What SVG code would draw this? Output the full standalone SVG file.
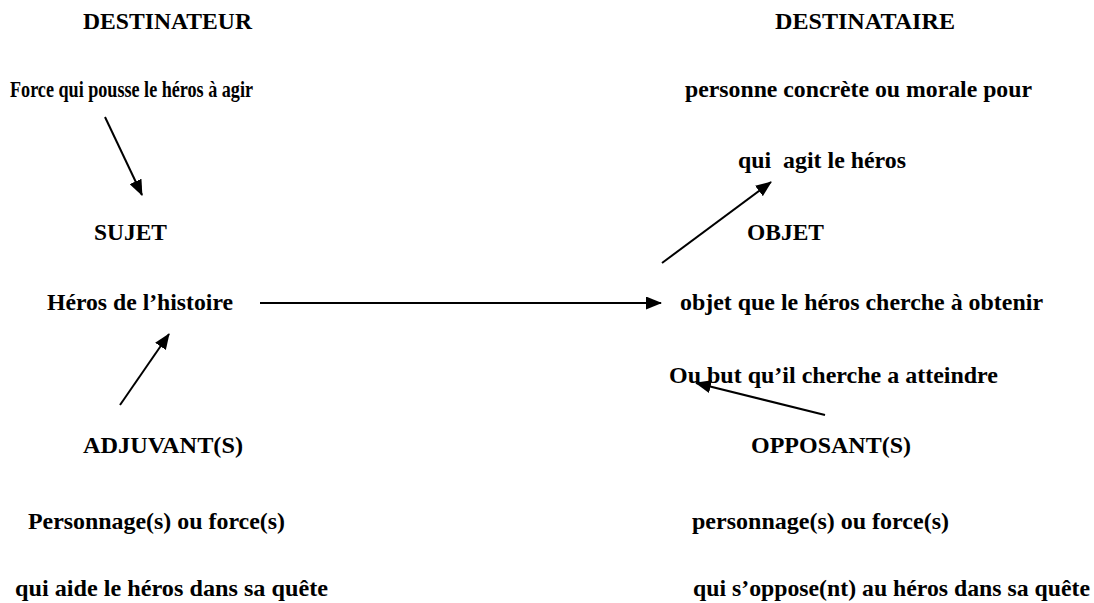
<svg xmlns="http://www.w3.org/2000/svg" width="1094" height="603" viewBox="0 0 1094 603">
<style>
text{font-family:"Liberation Serif","Times New Roman",serif;font-weight:bold;font-size:23px;fill:#000;white-space:pre}
.c{stroke:#000;stroke-width:2;fill:none}
</style>
<defs>
<marker id="ah" markerUnits="userSpaceOnUse" markerWidth="16" markerHeight="13" refX="15" refY="6.5" orient="auto">
<path d="M0,0 L16,6.5 L0,13 z" fill="#000"/>
</marker>
</defs>
<rect width="1094" height="603" fill="#fff"/>
<g id="destinateur">
<text x="83" y="29" textLength="169" lengthAdjust="spacingAndGlyphs">DESTINATEUR</text>
<text x="10" y="97" textLength="243" lengthAdjust="spacingAndGlyphs">Force qui pousse le héros à agir</text>
</g>
<g id="destinataire">
<text x="775" y="29" textLength="180" lengthAdjust="spacingAndGlyphs">DESTINATAIRE</text>
<text x="685" y="97" textLength="347" lengthAdjust="spacingAndGlyphs">personne concrète ou morale pour</text>
<text x="738" y="168" textLength="168" lengthAdjust="spacingAndGlyphs">qui  agit le héros</text>
</g>
<g id="sujet">
<text x="94" y="240" textLength="73" lengthAdjust="spacingAndGlyphs">SUJET</text>
<text x="47" y="310" textLength="186" lengthAdjust="spacingAndGlyphs">Héros de l’histoire</text>
</g>
<g id="objet">
<text x="747" y="240" textLength="77" lengthAdjust="spacingAndGlyphs">OBJET</text>
<text x="680" y="310" textLength="363" lengthAdjust="spacingAndGlyphs">objet que le héros cherche à obtenir</text>
<text x="669" y="383" textLength="329" lengthAdjust="spacingAndGlyphs">Ou but qu’il cherche a atteindre</text>
</g>
<g id="adjuvant">
<text x="83" y="453" textLength="160" lengthAdjust="spacingAndGlyphs">ADJUVANT(S)</text>
<text x="28" y="529" textLength="257" lengthAdjust="spacingAndGlyphs">Personnage(s) ou force(s)</text>
<text x="15" y="596" textLength="313" lengthAdjust="spacingAndGlyphs">qui aide le héros dans sa quête</text>
</g>
<g id="opposant">
<text x="751" y="453" textLength="160" lengthAdjust="spacingAndGlyphs">OPPOSANT(S)</text>
<text x="692" y="529" textLength="257" lengthAdjust="spacingAndGlyphs">personnage(s) ou force(s)</text>
<text x="693" y="596" textLength="397" lengthAdjust="spacingAndGlyphs">qui s’oppose(nt) au héros dans sa quête</text>
</g>
<g id="connectors">
<line class="c" x1="260" y1="303" x2="661" y2="303" marker-end="url(#ah)"/>
<line class="c" x1="105" y1="117" x2="142" y2="195" marker-end="url(#ah)"/>
<line class="c" x1="662" y1="263" x2="771" y2="182" marker-end="url(#ah)"/>
<line class="c" x1="120" y1="405" x2="169" y2="334" marker-end="url(#ah)"/>
<line class="c" x1="825" y1="415" x2="696" y2="383" marker-end="url(#ah)"/>
</g>
</svg>
